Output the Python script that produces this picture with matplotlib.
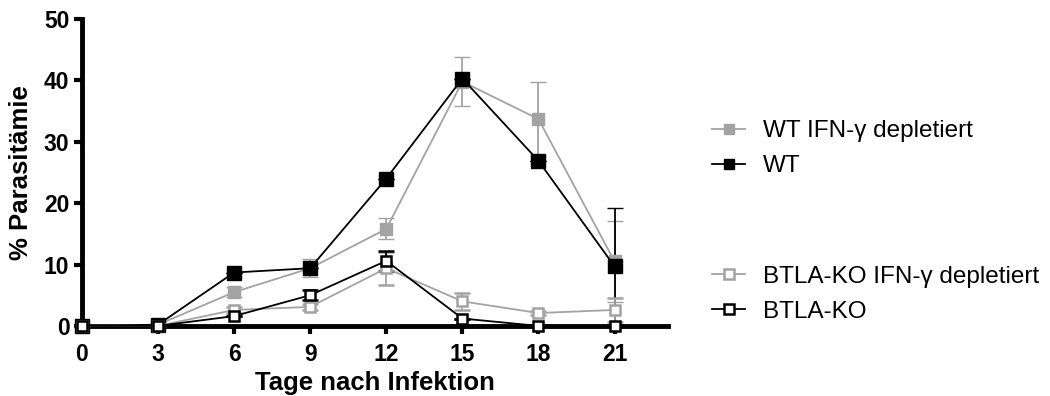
import matplotlib
matplotlib.use("Agg")
import matplotlib.pyplot as plt

plt.rcParams['font.family'] = ['Liberation Sans', 'DejaVu Sans']

# days post infection
days = [0, 3, 6, 9, 12, 15, 18, 21]

# % parasitaemia (mean, error)
wt_ifn = [0, 0.2, 5.5, 9.4, 15.8, 39.8, 33.7, 10.5]
wt_ifn_err = [0, 0, 0.8, 1.5, 1.7, 4.0, 6.0, 6.6]
wt = [0, 0.2, 8.7, 9.4, 24.0, 40.3, 26.9, 9.7]
wt_err = [0, 0, 0, 0, 0, 0, 0, 9.5]
ko_ifn = [0, 0, 2.6, 3.1, 9.4, 4.0, 2.1, 2.6]
ko_ifn_err = [0, 0, 0.5, 0.5, 2.7, 1.4, 0.4, 2.0]
ko = [0, 0, 1.6, 5.0, 10.6, 1.2, 0, 0]
ko_err = [0, 0, 0, 0.8, 1.6, 0, 0, 0]

labels_top = ['WT IFN-γ depletiert', 'WT']
labels_bottom = ['BTLA-KO IFN-γ depletiert', 'BTLA-KO']

grey = '#a3a3a3'

fig = plt.figure(figsize=(10.5, 3.96), dpi=100)
ax = fig.add_axes([0.078, 0.177, 0.558, 0.775])

# values, errors, line colour, marker face, marker size, edge width
series = [
    (wt_ifn, wt_ifn_err, grey, grey, 8.5, 1),
    (wt, wt_err, 'black', 'black', 9.5, 1),
    (ko_ifn, ko_ifn_err, grey, 'white', 7.5, 1.8),
    (ko, ko_err, 'black', 'white', 7.5, 1.8),
]
handles = []
for vals, err, col, face, ms, mew in series:
    eb = ax.errorbar(days, vals, yerr=err, color=col, ecolor=col, lw=1.3,
                     marker='s', ms=ms, mfc=face, mec=col, mew=mew,
                     elinewidth=1.3, capsize=6, capthick=1.3, zorder=3)
    # let markers sitting on the axis show in full
    eb.lines[0].set_clip_on(False)
    for c in eb.lines[1] + eb.lines[2]:
        c.set_clip_on(False)
    h, = ax.plot([], [], color=col, lw=1.3, marker='s', ms=6.5,
                 mfc=face, mec=col, mew=mew)
    handles.append(h)

ax.set_xlim(0, 23.1)
ax.set_ylim(0, 50)
ax.set_xticks(days)
ax.set_yticks([0, 10, 20, 30, 40, 50])
for s in ['top', 'right']:
    ax.spines[s].set_visible(False)
for s in ['left', 'bottom']:
    ax.spines[s].set_linewidth(3.5)
    ax.spines[s].set_zorder(2)
ax.tick_params(width=3, length=6, labelsize=16.5, pad=3)
ax.tick_params(axis='x', pad=6)
for t in ax.get_xticklabels() + ax.get_yticklabels():
    t.set_fontweight('bold')
ax.set_xlabel('Tage nach Infektion', fontsize=18.5, fontweight='bold', labelpad=4)
ax.set_ylabel('% Parasitämie', fontsize=18.5, fontweight='bold', labelpad=8)

# two separate legend blocks to the right
leg_kw = dict(loc='center left', frameon=False, fontsize=17.5,
              handlelength=1.36, handletextpad=0.74, labelspacing=0.55,
              borderaxespad=0)
fig.legend(handles[:2], labels_top, bbox_to_anchor=(0.669, 0.6245), **leg_kw)
fig.legend(handles[2:], labels_bottom, bbox_to_anchor=(0.669, 0.257), **leg_kw)

fig.savefig('out.png', dpi=100)
